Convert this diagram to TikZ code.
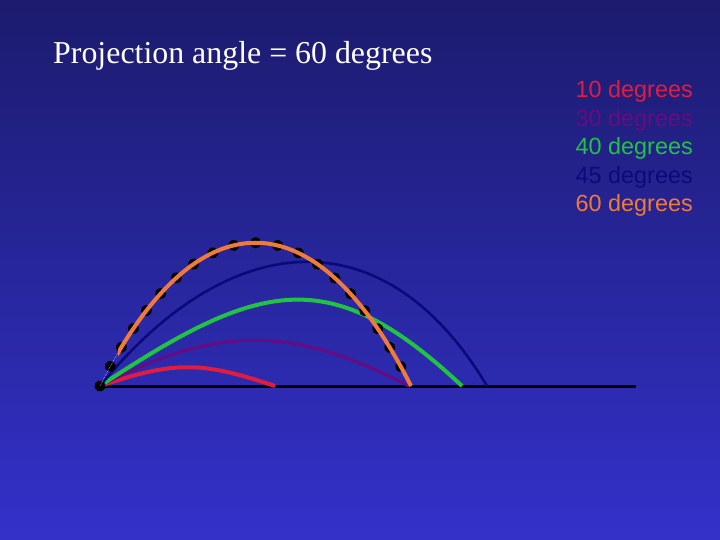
\documentclass[tikz,border=0pt]{standalone}
\usepackage{fontspec}
\setmainfont{Liberation Serif}
\setsansfont{Liberation Sans}
\usetikzlibrary{positioning,decorations.markings}

\definecolor{bgtop}{RGB}{28,27,110}
\definecolor{bgbot}{RGB}{51,49,202}
\definecolor{deg10}{RGB}{226,28,62}
\definecolor{deg30}{RGB}{104,10,128}
\definecolor{deg40}{RGB}{32,196,66}
\definecolor{deg45}{RGB}{10,10,122}
\definecolor{deg60}{RGB}{240,122,58}

\begin{document}
\begin{tikzpicture}[
    x=1bp, y=-1bp,
    ground/.style   = {black, line width=3bp},
    path10/.style   = {deg10, line width=4bp},
    path30/.style   = {deg30, line width=3bp},
    path40/.style   = {deg40, line width=4bp},
    path45/.style   = {deg45, line width=2.6bp},
    path60/.style   = {deg60, line width=4bp},
    launch/.style   = {blue!25!white, line width=0.6bp, densely dotted},
    dotted-flight/.style = {decoration={markings,
        mark=between positions 0 and 1 step 0.05 with {\fill[black] (0,0) circle (5.6bp);}},
        postaction=decorate},
    legend/.style   = {font=\sffamily\fontsize{23.5}{23.5}\selectfont, anchor=base east, inner sep=0pt},
    heading/.style  = {font=\fontsize{32}{32}\selectfont, text=white, anchor=base west, inner sep=0pt}
  ]

% background
\useasboundingbox (0,0) rectangle (720,540);
\shade[top color=bgtop, bottom color=bgbot] (0,0) rectangle (720,540);

% title
\node[heading] (title) at (53,64) {Projection angle = 60 degrees};

% legend
\node[legend, text=deg10] (leg10) at (693,98)  {10 degrees};
\node[legend, text=deg30] (leg30) at (693,127) {30 degrees};
\node[legend, text=deg40] (leg40) at (693,155) {40 degrees};
\node[legend, text=deg45] (leg45) at (693,184) {45 degrees};
\node[legend, text=deg60] (leg60) at (693,212) {60 degrees};

% launch point, landing points
\coordinate (O)   at (100,386);
\coordinate (G)   at (636,386);
\coordinate (L10) at (275,386);
\coordinate (L30) at (409,386);
\coordinate (L40) at (462,386);
\coordinate (L45) at (487,386);
\coordinate (L60) at (411,386);

% ground
\draw[ground] (98,386) -- (G);

% trajectories
\draw[path10] (O) .. controls (174,361) and (201,361) .. (L10);
\draw[path30] (O) .. controls (218,325) and (291,325) .. (L30);
\draw[path40] (O) .. controls (260,280) and (330,262) .. (L40);
\draw[path45] (O) .. controls (230,226) and (385,215) .. (L45);

% 60 degrees: sampled points, then the fitted curve on top
\path[dotted-flight] (O) .. controls (196,195) and (315,195) .. (L60);
\begin{scope}
  \clip (0,0) rectangle (118,540);
  \draw[launch] (O) .. controls (196,195) and (315,195) .. (L60);
\end{scope}
\begin{scope}
  \clip (118,0) rectangle (720,540);
  \draw[path60] (O) .. controls (196,195) and (315,195) .. (L60);
\end{scope}

\end{tikzpicture}
\end{document}
